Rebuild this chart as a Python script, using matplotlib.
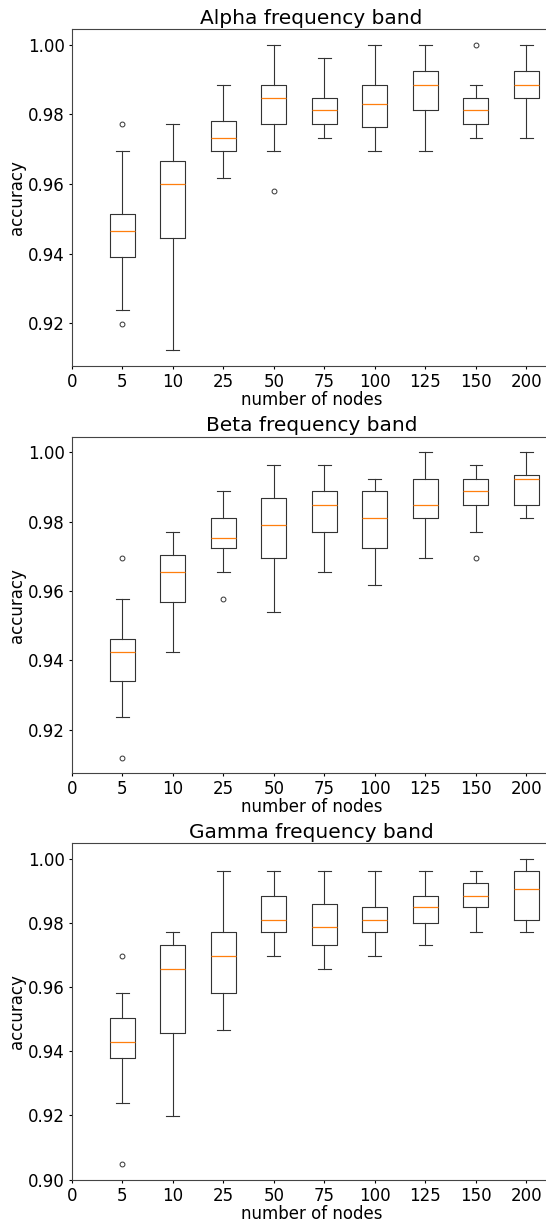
import matplotlib
matplotlib.use("Agg")
import matplotlib.pyplot as plt

nodes = ["5", "10", "25", "50", "75", "100", "125", "150", "200"]
tick_labels = ["0"] + nodes

# per band: whisker low, q1, median, q3, whisker high, outliers
alpha_whislo = [0.9237, 0.9122, 0.9618, 0.9694, 0.9733, 0.9694, 0.9694, 0.9733, 0.9733]
alpha_q1 = [0.9390, 0.9446, 0.9694, 0.9771, 0.9771, 0.9762, 0.9811, 0.9771, 0.9848]
alpha_med = [0.9465, 0.9599, 0.9733, 0.9848, 0.9811, 0.9828, 0.9885, 0.9811, 0.9885]
alpha_q3 = [0.9513, 0.9665, 0.9781, 0.9885, 0.9848, 0.9885, 0.9923, 0.9848, 0.9923]
alpha_whishi = [0.9694, 0.9771, 0.9885, 1.0, 0.9961, 1.0, 1.0, 0.9885, 1.0]
alpha_fliers = [[0.9771, 0.9199], [], [], [0.9579], [], [], [], [1.0], []]

beta_whislo = [0.9235, 0.9425, 0.9655, 0.9540, 0.9655, 0.9618, 0.9694, 0.9770, 0.9810]
beta_q1 = [0.9339, 0.9569, 0.9723, 0.9694, 0.9770, 0.9723, 0.9810, 0.9848, 0.9848]
beta_med = [0.9425, 0.9655, 0.9752, 0.9791, 0.9848, 0.9810, 0.9848, 0.9887, 0.9923]
beta_q3 = [0.9462, 0.9703, 0.9810, 0.9867, 0.9887, 0.9887, 0.9923, 0.9923, 0.9933]
beta_whishi = [0.9578, 0.9770, 0.9887, 0.9962, 0.9962, 0.9923, 1.0, 0.9962, 1.0]
beta_fliers = [[0.9694, 0.9118], [], [0.9578], [], [], [], [], [0.9694], []]

gamma_whislo = [0.9238, 0.9199, 0.9467, 0.9695, 0.9657, 0.9695, 0.9732, 0.9770, 0.9770]
gamma_q1 = [0.9380, 0.9457, 0.9581, 0.9770, 0.9732, 0.9770, 0.9800, 0.9848, 0.9810]
gamma_med = [0.9428, 0.9657, 0.9695, 0.9810, 0.9788, 0.9810, 0.9848, 0.9884, 0.9904]
gamma_q3 = [0.9504, 0.9732, 0.9770, 0.9884, 0.9857, 0.9848, 0.9884, 0.9925, 0.9962]
gamma_whishi = [0.9581, 0.9770, 0.9962, 0.9962, 0.9962, 0.9962, 0.9962, 0.9962, 1.0]
gamma_fliers = [[0.9695, 0.9047], [], [], [], [], [], [], [], []]

bands = [
    ("Alpha frequency band", alpha_whislo, alpha_q1, alpha_med, alpha_q3, alpha_whishi, alpha_fliers),
    ("Beta frequency band", beta_whislo, beta_q1, beta_med, beta_q3, beta_whishi, beta_fliers),
    ("Gamma frequency band", gamma_whislo, gamma_q1, gamma_med, gamma_q3, gamma_whishi, gamma_fliers),
]

plt.rcParams['axes.linewidth'] = 0.8
plt.rcParams['axes.edgecolor'] = '#444444'
plt.rcParams['xtick.major.size'] = 2.5
plt.rcParams['ytick.major.size'] = 2.5
plt.rcParams['xtick.major.pad'] = 2.5
plt.rcParams['ytick.major.pad'] = 2.5

fig = plt.figure(figsize=(5.46, 12.2), dpi=100)
bottoms = [0.7002, 0.3661, 0.0330]

for (title, lo, q1, med, q3, hi, fl), b in zip(bands, bottoms):
    ax = fig.add_axes([0.1313, b, 0.879, 0.2758])
    stats = []
    for i in range(len(nodes)):
        stats.append(dict(whislo=lo[i], q1=q1[i], med=med[i], q3=q3[i],
                          whishi=hi[i], fliers=fl[i]))
    ax.bxp(stats, positions=range(1, len(nodes) + 1), widths=0.5,
           boxprops=dict(linewidth=0.8, color='#333333'),
           whiskerprops=dict(linewidth=0.8, color='#333333'),
           capprops=dict(linewidth=0.8, color='#333333'),
           medianprops=dict(linewidth=0.9, color='#ff7f0e'),
           flierprops=dict(marker='o', markersize=3.5, markeredgewidth=0.7,
                           markerfacecolor='none', markeredgecolor='#333333'))
    ax.set_xticks(range(len(tick_labels)))
    ax.set_xticklabels(tick_labels)
    ax.set_xlim(0, 9.5)
    ax.tick_params(labelsize=12)
    ax.set_title(title, fontsize=14.5, pad=4)
    ax.set_xlabel("number of nodes", fontsize=12, labelpad=0)
    ax.set_ylabel("accuracy", fontsize=12, labelpad=1)

fig.savefig("out.png", dpi=100)
